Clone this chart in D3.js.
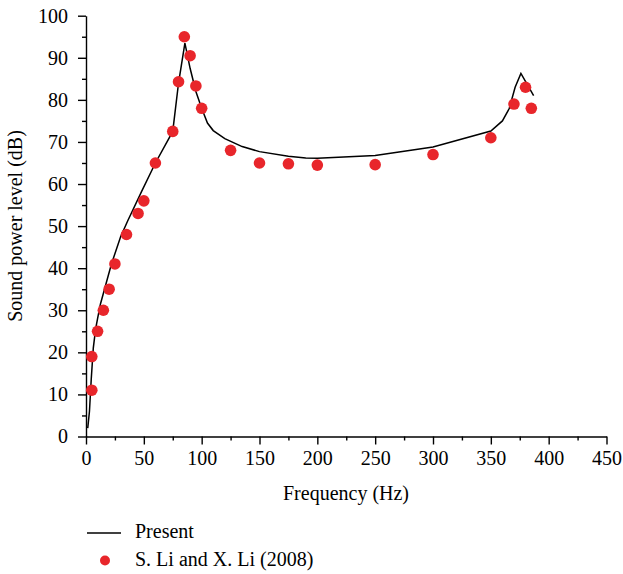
<!DOCTYPE html>
<html><head><meta charset="utf-8">
<script src="https://cdn.jsdelivr.net/npm/d3@7"></script>
<style>body{margin:0;background:#fff}svg{display:block}text{font-family:"Liberation Serif","DejaVu Serif",serif;fill:#000}</style>
</head><body><svg id="c" width="623" height="574"></svg>
<script>
const presentFreq = [1.5,3,4.5,6.3,8.3,10,12.5,16,22,30,36,48,60,75,80,85.5,90,95,100,105,110,120,135,150,175,190,200,250,300,350,360,366,371,376,387];
const presentLevel = [2,6,13.5,21,25.5,28,31.5,35,41,47.5,51.2,58.2,65,72.5,84,93.5,87.5,82,78,74.5,72.7,70.8,68.9,67.7,66.6,66.2,66.1,66.8,68.8,72.6,75,78,83,86.3,81];
const refFreq = [5,5,10,15,20,25,35,45,50,60,75,80,85,90,95,100,125,150,175,200,250,300,350,370,380,385];
const refLevel = [11,19,25,30,35,41,48,53,56,65,72.5,84.3,95,90.5,83.3,78,68,65,64.8,64.5,64.6,67,71,79,83,78];
const xTicks = [0,50,100,150,200,250,300,350,400,450];
const yTicks = [0,10,20,30,40,50,60,70,80,90,100];
const legendLabels = ["Present","S. Li and X. Li (2008)"];

const svg = d3.select("#c");
const x = d3.scaleLinear().domain([0,450]).range([86,606.5]);
const y = d3.scaleLinear().domain([0,100]).range([436.5,15.7]);
const fs = 20;

// minor ticks
const gx = svg.append("g").attr("transform","translate(0,436.5)");
gx.call(d3.axisBottom(x).tickValues(d3.range(25,450,50)).tickSize(4).tickFormat(""));
gx.call(g=>g.select(".domain").remove());
const gx2 = svg.append("g").attr("transform","translate(0,436.5)")
  .call(d3.axisBottom(x).tickValues(xTicks).tickSize(8).tickSizeOuter(0).tickPadding(6).tickFormat(d3.format("d")));
gx2.selectAll("text").attr("font-size",fs).attr("font-family","Liberation Serif");
const gy = svg.append("g").attr("transform","translate(86,0)");
gy.call(d3.axisLeft(y).tickValues(d3.range(5,100,10)).tickSize(4).tickFormat(""));
gy.call(g=>g.select(".domain").remove());
const gy2 = svg.append("g").attr("transform","translate(86,0)")
  .call(d3.axisLeft(y).tickValues(yTicks).tickSize(8).tickSizeOuter(0).tickPadding(10).tickFormat(d3.format("d")));
gy2.selectAll("text").attr("font-size",fs).attr("font-family","Liberation Serif");
svg.selectAll(".domain,.tick line").attr("stroke","#000").attr("stroke-width",1.4);

// axis titles
svg.append("text").attr("x",346).attr("y",500).attr("text-anchor","middle").attr("font-size",fs).text("Frequency (Hz)");
svg.append("text").attr("transform","translate(22,226) rotate(-90)").attr("text-anchor","middle").attr("font-size",fs).text("Sound power level (dB)");

// line
const line = d3.line().x(d=>x(d[0])).y(d=>y(d[1]));
svg.append("path").datum(presentFreq.map((f,i)=>[f,presentLevel[i]]))
  .attr("d",line).attr("fill","none").attr("stroke","#000").attr("stroke-width",1.5);

// points
svg.append("g").selectAll("circle").data(refFreq.map((f,i)=>[f,refLevel[i]])).join("circle")
  .attr("cx",d=>x(d[0])).attr("cy",d=>y(d[1])).attr("r",5.8).attr("fill","#e8262b");

// legend
svg.append("line").attr("x1",87).attr("x2",121).attr("y1",533).attr("y2",533).attr("stroke","#000").attr("stroke-width",1.5);
svg.append("text").attr("x",135).attr("y",538).attr("font-size",fs).text(legendLabels[0]);
svg.append("circle").attr("cx",105).attr("cy",560.5).attr("r",5).attr("fill","#e8262b");
svg.append("text").attr("x",135).attr("y",566).attr("font-size",fs).text(legendLabels[1]);
</script></body></html>
